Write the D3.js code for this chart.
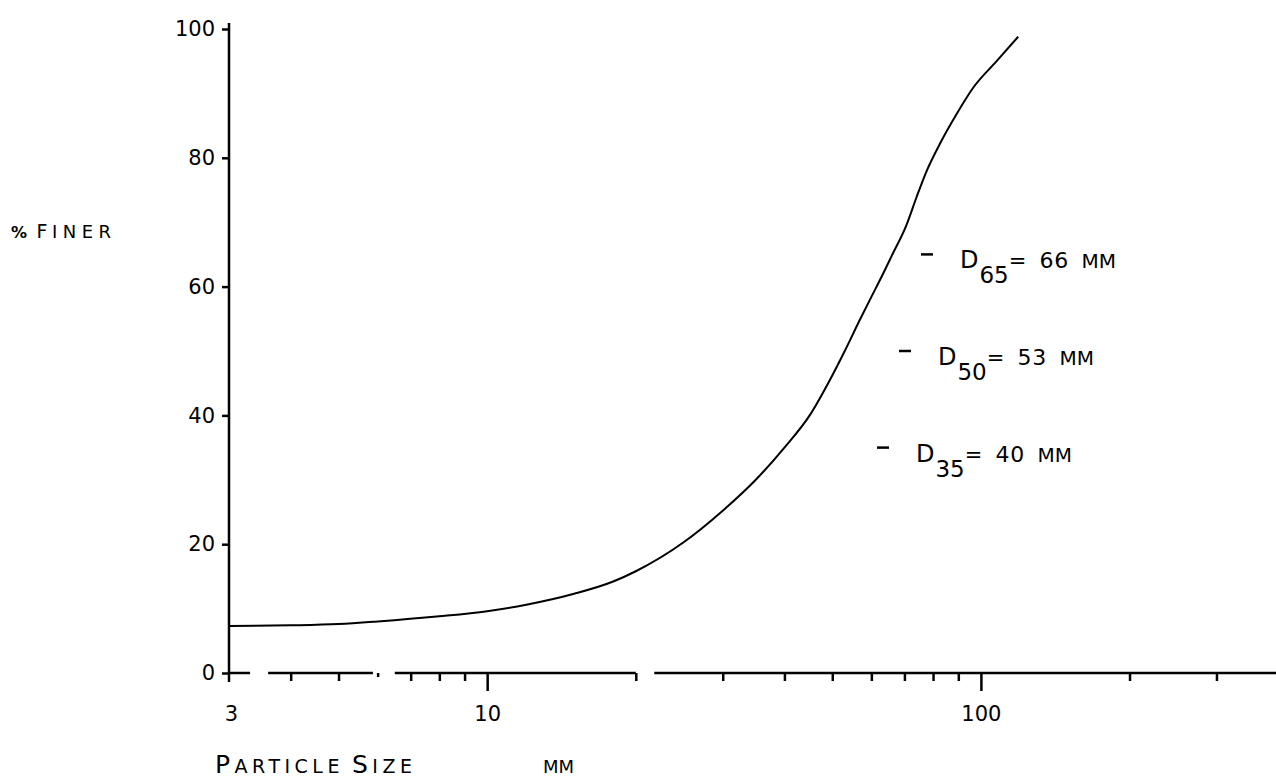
<!DOCTYPE html>
<html>
<head>
<meta charset="utf-8">
<script src="https://cdn.jsdelivr.net/npm/d3@7"></script>
<style>
body { margin: 0; background: #fff; }
text { font-family: "DejaVu Sans", sans-serif; fill: #000; }
</style>
</head>
<body>
<div id="chart"></div>
<script>
var width = 1276;
var height = 783;

// grading curve (size in mm, % finer)
var sizes = [3, 4, 5, 6, 8, 10, 12, 15, 18, 20, 25, 30, 35, 40, 45, 50, 53, 57, 60, 63, 66, 70.7, 74, 77.6, 82.5, 89.3, 96.3, 107.6, 119];
var finer = [7.3, 7.4, 7.6, 8.0, 8.8, 9.6, 10.6, 12.3, 14.2, 15.8, 20.3, 25.2, 30.0, 35.0, 40.0, 46.2, 50.0, 55.0, 58.4, 61.6, 64.8, 69.6, 73.8, 77.9, 82.1, 86.8, 90.8, 95.0, 98.8];

var yTicks = [0, 20, 40, 60, 80, 100];
var xLabels = [3, 10, 100];
var xMajor = [10, 100];
var xMinor = [4, 5, 7, 8, 9, 20, 30, 40, 50, 60, 70, 80, 90, 200, 300];
var xDot = [6];
// the drawn axis line has small breaks in it
var axisRuns = [[3, 3.31], [3.6, 5.87], [6.5, 20], [21.8, 400]];

var dPct = [65, 50, 35];
var dSize = [66, 53, 40];

var svg = d3.select("#chart").append("svg")
    .attr("width", width)
    .attr("height", height);

var x = d3.scaleLog()
    .domain([3, 396])
    .range([229, 1276]);

var y = d3.scaleLinear()
    .domain([0, 100])
    .range([673, 29]);

var y0 = y(0);

// x axis line
svg.selectAll("line.xrun")
    .data(axisRuns)
    .enter()
    .append("line")
        .attr("class", "xrun")
        .attr("x1", function(d){ return x(d[0]); })
        .attr("x2", function(d){ return Math.min(x(d[1]), width); })
        .attr("y1", y0)
        .attr("y2", y0)
        .attr("stroke", "#000")
        .attr("stroke-width", 2.5);

function tickAxis(vals, size){
    var g = svg.append("g")
        .attr("transform", "translate(0," + y0 + ")")
        .call(d3.axisBottom(x).tickValues(vals).tickSize(size).tickFormat(""));
    g.select(".domain").remove();
    g.selectAll("line").attr("stroke-width", 2.5);
    return g;
}
tickAxis(xMajor, 18);
tickAxis(xMinor, 8);
tickAxis(xDot, 4);

var xl = svg.append("g")
    .attr("transform", "translate(0," + y0 + ")")
    .call(d3.axisBottom(x).tickValues(xLabels).tickSize(0).tickPadding(33)
        .tickFormat(d3.format("d")));
xl.select(".domain").remove();
xl.selectAll("text")
    .style("font-size", "21px")
    .style("font-family", "DejaVu Sans");
xl.selectAll(".tick text").filter(function(d){ return d == 3; }).attr("dx", 2);

// y axis
var ya = svg.append("g")
    .attr("transform", "translate(" + x(3) + ",0)")
    .call(d3.axisLeft(y).tickValues(yTicks).tickSize(7).tickPadding(7)
        .tickFormat(d3.format("d")));
ya.select(".domain").remove();
ya.selectAll("line").attr("stroke-width", 2.5);
ya.selectAll("text")
    .style("font-size", "21px")
    .style("font-family", "DejaVu Sans");

svg.append("line")
    .attr("x1", x(3)).attr("x2", x(3))
    .attr("y1", y(100) - 6).attr("y2", y0 + 9)
    .attr("stroke", "#000")
    .attr("stroke-width", 2.5);

// curve
var pts = sizes.map(function(s, i){ return [s, finer[i]]; });
var line = d3.line()
    .x(function(d){ return x(d[0]); })
    .y(function(d){ return y(d[1]); })
    .curve(d3.curveMonotoneX);

svg.append("path")
    .datum(pts)
    .attr("d", line)
    .attr("fill", "none")
    .attr("stroke", "#000")
    .attr("stroke-width", 2);

// D annotations
var ann = svg.selectAll("g.ann")
    .data(dPct)
    .enter()
    .append("g")
        .attr("class", "ann")
        .attr("transform", function(d, i){ return "translate(" + (927 - 22 * i) + "," + y(d) + ")"; });

ann.append("line")
    .attr("x1", -6).attr("x2", 6)
    .attr("y1", 0).attr("y2", 0)
    .attr("stroke", "#000")
    .attr("stroke-width", 2.5);

var at = ann.append("text")
    .attr("x", 33)
    .attr("y", 14);
at.append("tspan").style("font-size", "24px").text("D");
at.append("tspan").style("font-size", "23px").attr("dy", 15).attr("dx", 1).text(function(d){ return d; });
at.append("tspan").style("font-size", "21px").attr("dy", -15).text("=");
at.append("tspan").style("font-size", "22px").attr("dx", 13)
    .style("letter-spacing", "1px")
    .text(function(d, i){ return dSize[i]; });
at.append("tspan").style("font-size", "20px").attr("dx", 12).text("MM");

// axis titles
var yt = svg.append("text")
    .attr("x", 11)
    .attr("y", 238)
    .style("letter-spacing", "5.5px");
yt.append("tspan").style("font-size", "16px").style("font-weight", "bold").text("%");
yt.append("tspan").style("font-size", "19px").attr("dx", 4).text("F");
yt.append("tspan").style("font-size", "18px").attr("dx", -1).text("INER");

var xt = svg.append("text")
    .attr("x", 215)
    .attr("y", 773)
    .style("letter-spacing", "4.5px");
xt.append("tspan").style("font-size", "25px").text("P");
xt.append("tspan").style("font-size", "19px").text("ARTICLE");
xt.append("tspan").style("font-size", "25px").attr("dx", 8).text("S");
xt.append("tspan").style("font-size", "19px").text("IZE");

svg.append("text")
    .attr("x", 543)
    .attr("y", 773)
    .style("font-size", "18px")
    .text("MM");
</script>
</body>
</html>
